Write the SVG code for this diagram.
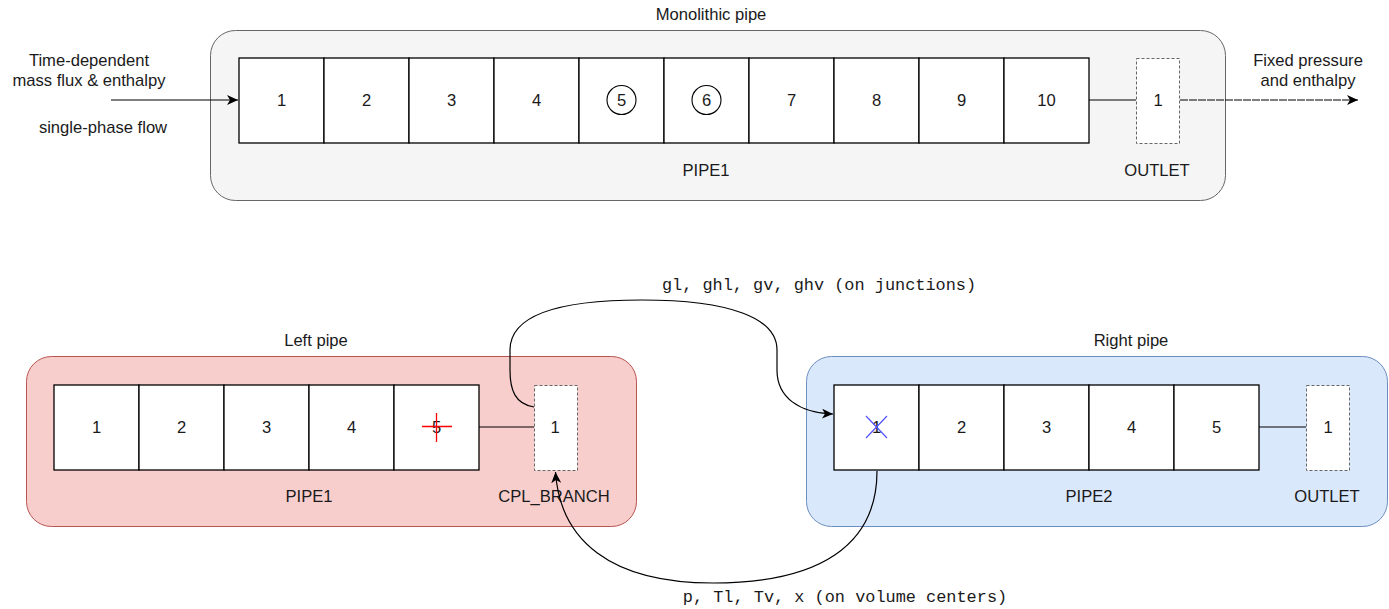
<svg xmlns="http://www.w3.org/2000/svg" width="1389" height="609" viewBox="0 0 1389 609">
  <style>
    .t { font-family: "Liberation Sans", Arial, sans-serif; font-size: 16.6px; fill: #1a1a1a; text-anchor: middle; }
    .m { font-family: "Liberation Mono", "Courier New", monospace; font-size: 16.9px; fill: #1a1a1a; text-anchor: middle; }
    .cell { fill: #ffffff; stroke: #000000; stroke-width: 1.3; }
    .port { fill: #ffffff; stroke: #666666; stroke-width: 1; stroke-dasharray: 3 2; }
    .wire { fill: none; stroke: #000000; stroke-width: 1.2; }
    .ring { fill: none; stroke: #000000; stroke-width: 1.1; }
  </style>
  <defs>
    <marker id="arrow" markerUnits="userSpaceOnUse" markerWidth="13" markerHeight="11" refX="11" refY="5" orient="auto">
      <path d="M0,0 L11,5 L0,10 L3,5 Z" fill="#000000"/>
    </marker>
  </defs>

  <!-- Monolithic pipe -->
  <g id="monolithic">
    <rect x="210.5" y="30.5" width="1015" height="170" rx="25" fill="#f5f5f5" stroke="#666666" stroke-width="1"/>
    <text class="t" x="711" y="20">Monolithic pipe</text>
    <text class="t" x="706" y="176">PIPE1</text>
    <text class="t" x="1157" y="176">OUTLET</text>
  </g>
  <g id="mono-pipe1">
    <rect class="cell" x="239" y="58" width="85" height="85"/>
    <rect class="cell" x="324" y="58" width="85" height="85"/>
    <rect class="cell" x="409" y="58" width="85" height="85"/>
    <rect class="cell" x="494" y="58" width="85" height="85"/>
    <rect class="cell" x="579" y="58" width="85" height="85"/>
    <rect class="cell" x="664" y="58" width="85" height="85"/>
    <rect class="cell" x="749" y="58" width="85" height="85"/>
    <rect class="cell" x="834" y="58" width="85" height="85"/>
    <rect class="cell" x="919" y="58" width="85" height="85"/>
    <rect class="cell" x="1004" y="58" width="85" height="85"/>
    <text class="t" x="281.5" y="106">1</text>
    <text class="t" x="366.5" y="106">2</text>
    <text class="t" x="451.5" y="106">3</text>
    <text class="t" x="536.5" y="106">4</text>
    <circle class="ring" cx="621.5" cy="100" r="14.5"/>
    <text class="t" x="621.5" y="106">5</text>
    <circle class="ring" cx="706.5" cy="100" r="14.5"/>
    <text class="t" x="706.5" y="106">6</text>
    <text class="t" x="791.5" y="106">7</text>
    <text class="t" x="876.5" y="106">8</text>
    <text class="t" x="961.5" y="106">9</text>
    <text class="t" x="1046.5" y="106">10</text>
  </g>
  <g id="mono-outlet">
    <rect class="port" x="1136.5" y="58.5" width="43" height="85"/>
    <text class="t" x="1158" y="106">1</text>
  </g>
  <g id="inlet-label">
    <text class="t" x="89" y="66">Time-dependent</text>
    <text class="t" x="89" y="86">mass flux &amp; enthalpy</text>
    <text class="t" x="103" y="133">single-phase flow</text>
  </g>
  <g id="outlet-label">
    <text class="t" x="1308" y="66">Fixed pressure</text>
    <text class="t" x="1308" y="86">and enthalpy</text>
  </g>

  <!-- Left pipe -->
  <g id="left-pipe">
    <rect x="26.5" y="356.5" width="610" height="170" rx="25" fill="#f8cecc" stroke="#b85450" stroke-width="1"/>
    <text class="t" x="316" y="346">Left pipe</text>
    <text class="t" x="309" y="502">PIPE1</text>
    <text class="t" x="554" y="502">CPL_BRANCH</text>
  </g>
  <g id="left-pipe1">
    <rect class="cell" x="54" y="385" width="85" height="85"/>
    <rect class="cell" x="139" y="385" width="85" height="85"/>
    <rect class="cell" x="224" y="385" width="85" height="85"/>
    <rect class="cell" x="309" y="385" width="85" height="85"/>
    <rect class="cell" x="394" y="385" width="85" height="85"/>
    <text class="t" x="96.5" y="433">1</text>
    <text class="t" x="181.5" y="433">2</text>
    <text class="t" x="266.5" y="433">3</text>
    <text class="t" x="351.5" y="433">4</text>
    <text class="t" x="436.5" y="433">5</text>
    <path d="M422 426.5 H452 M436.5 413 V442" stroke="#ff0000" stroke-width="1.3" fill="none"/>
  </g>
  <g id="cpl-branch">
    <rect class="port" x="534.5" y="385.5" width="43" height="85"/>
    <text class="t" x="555" y="433">1</text>
  </g>

  <!-- Right pipe -->
  <g id="right-pipe">
    <rect x="806.5" y="356.5" width="581" height="170" rx="25" fill="#dae8fc" stroke="#6c8ebf" stroke-width="1"/>
    <text class="t" x="1131" y="346">Right pipe</text>
    <text class="t" x="1089" y="502">PIPE2</text>
    <text class="t" x="1327" y="502">OUTLET</text>
  </g>
  <g id="right-pipe2">
    <rect class="cell" x="834" y="385" width="85" height="85"/>
    <rect class="cell" x="919" y="385" width="85" height="85"/>
    <rect class="cell" x="1004" y="385" width="85" height="85"/>
    <rect class="cell" x="1089" y="385" width="85" height="85"/>
    <rect class="cell" x="1174" y="385" width="85" height="85"/>
    <text class="t" x="876.5" y="433">1</text>
    <text class="t" x="961.5" y="433">2</text>
    <text class="t" x="1046.5" y="433">3</text>
    <text class="t" x="1131.5" y="433">4</text>
    <text class="t" x="1216.5" y="433">5</text>
    <path d="M866 416 L887 438 M887 416 L866 438" stroke="#4d4dff" stroke-width="1.1" fill="none"/>
  </g>
  <g id="right-outlet">
    <rect class="port" x="1306.5" y="385.5" width="43" height="85"/>
    <text class="t" x="1328" y="433">1</text>
  </g>

  <!-- Connectors -->
  <g id="connectors">
    <path class="wire" d="M111 100 H238" marker-end="url(#arrow)"/>
    <path class="wire" d="M1089 100 H1136"/>
    <path class="wire" d="M1180 100 H1358" stroke-dasharray="8 1" marker-end="url(#arrow)"/>
    <path class="wire" d="M479 427 H534"/>
    <path class="wire" d="M1259 427 H1306"/>
    <path class="wire" d="M534 407 C515 404 510 390 510 370 L510 350 C510 315 560 300 642 300 C730 300 777 318 777 350 L777 370 C777 398 800 413 833 414" marker-end="url(#arrow)"/>
    <path class="wire" d="M877 471 C877 545 820 583 713 583 C610 583 560 540 555.5 472" marker-end="url(#arrow)"/>
    <text class="m" x="819" y="290">gl, ghl, gv, ghv (on junctions)</text>
    <text class="m" x="845" y="602">p, Tl, Tv, x (on volume centers)</text>
  </g>
</svg>
